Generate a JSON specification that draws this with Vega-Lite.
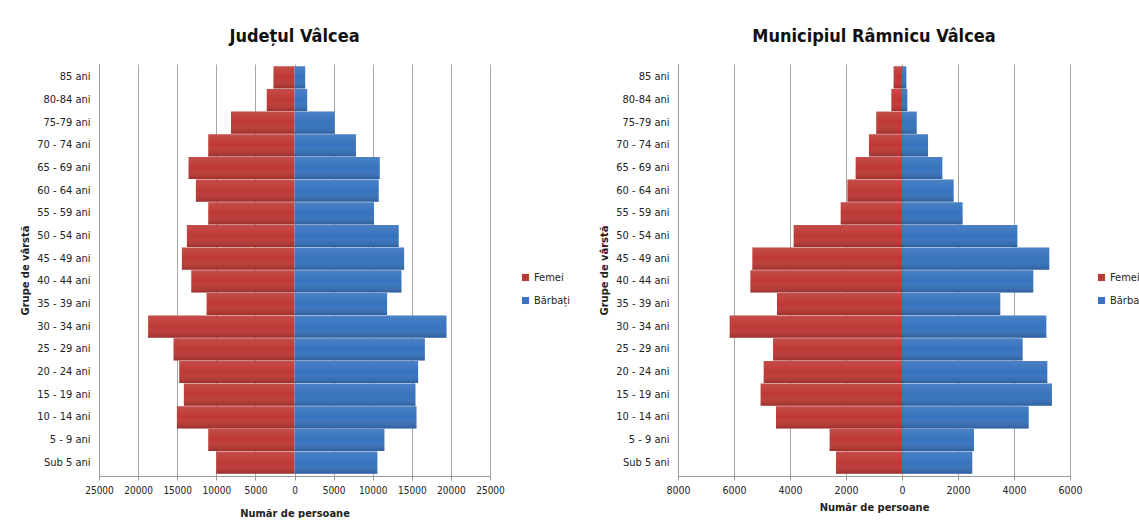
{
  "$schema": "https://vega.github.io/schema/vega-lite/v6.json",
  "padding": {"left": 19, "top": 28, "right": 0, "bottom": 0},
  "background": "white",
  "bounds": "flush",
  "spacing": 188,
  "config": {
    "font": "DejaVu Sans Condensed",
    "view": {"stroke": null},
    "axis": {"labelFont": "DejaVu Sans Condensed", "titleFont": "DejaVu Sans Condensed", "labelColor": "#222", "titleColor": "#222", "labelFontSize": 11, "titleFontSize": 11, "titleFontWeight": "bold"},
    "axisX": {"labelOverlap": false, "labelFlush": false, "labelFontSize": 10},
    "title": {"font": "DejaVu Sans Condensed", "fontSize": 18, "fontWeight": "bold", "color": "#111", "anchor": "middle", "frame": "group", "offset": 18},
    "legend": {"labelFont": "DejaVu Sans Condensed", "labelFontSize": 11, "labelColor": "#222"}
  },
  "datasets": {
    "judet": [
      {"grupa": "85 ani", "sex": "Femei", "valoare": -2690},
      {"grupa": "85 ani", "sex": "Bărbați", "valoare": 1370},
      {"grupa": "80-84 ani", "sex": "Femei", "valoare": -3550},
      {"grupa": "80-84 ani", "sex": "Bărbați", "valoare": 1620},
      {"grupa": "75-79 ani", "sex": "Femei", "valoare": -8120},
      {"grupa": "75-79 ani", "sex": "Bărbați", "valoare": 5130},
      {"grupa": "70 - 74 ani", "sex": "Femei", "valoare": -11030},
      {"grupa": "70 - 74 ani", "sex": "Bărbați", "valoare": 7860},
      {"grupa": "65 - 69 ani", "sex": "Femei", "valoare": -13550},
      {"grupa": "65 - 69 ani", "sex": "Bărbați", "valoare": 10900},
      {"grupa": "60 - 64 ani", "sex": "Femei", "valoare": -12610},
      {"grupa": "60 - 64 ani", "sex": "Bărbați", "valoare": 10770},
      {"grupa": "55 - 59 ani", "sex": "Femei", "valoare": -11030},
      {"grupa": "55 - 59 ani", "sex": "Bărbați", "valoare": 10170},
      {"grupa": "50 - 54 ani", "sex": "Femei", "valoare": -13760},
      {"grupa": "50 - 54 ani", "sex": "Bărbați", "valoare": 13330},
      {"grupa": "45 - 49 ani", "sex": "Femei", "valoare": -14400},
      {"grupa": "45 - 49 ani", "sex": "Bărbați", "valoare": 14020},
      {"grupa": "40 - 44 ani", "sex": "Femei", "valoare": -13200},
      {"grupa": "40 - 44 ani", "sex": "Bărbați", "valoare": 13680},
      {"grupa": "35 - 39 ani", "sex": "Femei", "valoare": -11240},
      {"grupa": "35 - 39 ani", "sex": "Bărbați", "valoare": 11840},
      {"grupa": "30 - 34 ani", "sex": "Femei", "valoare": -18720},
      {"grupa": "30 - 34 ani", "sex": "Bărbați", "valoare": 19440},
      {"grupa": "25 - 29 ani", "sex": "Femei", "valoare": -15470},
      {"grupa": "25 - 29 ani", "sex": "Bărbați", "valoare": 16670},
      {"grupa": "20 - 24 ani", "sex": "Femei", "valoare": -14740},
      {"grupa": "20 - 24 ani", "sex": "Bărbați", "valoare": 15810},
      {"grupa": "15 - 19 ani", "sex": "Femei", "valoare": -14150},
      {"grupa": "15 - 19 ani", "sex": "Bărbați", "valoare": 15470},
      {"grupa": "10 - 14 ani", "sex": "Femei", "valoare": -15040},
      {"grupa": "10 - 14 ani", "sex": "Bărbați", "valoare": 15600},
      {"grupa": "5 - 9 ani", "sex": "Femei", "valoare": -11030},
      {"grupa": "5 - 9 ani", "sex": "Bărbați", "valoare": 11500},
      {"grupa": "Sub 5 ani", "sex": "Femei", "valoare": -10000},
      {"grupa": "Sub 5 ani", "sex": "Bărbați", "valoare": 10600}
    ],
    "municipiu": [
      {"grupa": "85 ani", "sex": "Femei", "valoare": -300},
      {"grupa": "85 ani", "sex": "Bărbați", "valoare": 155},
      {"grupa": "80-84 ani", "sex": "Femei", "valoare": -380},
      {"grupa": "80-84 ani", "sex": "Bărbați", "valoare": 190},
      {"grupa": "75-79 ani", "sex": "Femei", "valoare": -920},
      {"grupa": "75-79 ani", "sex": "Bărbați", "valoare": 525},
      {"grupa": "70 - 74 ani", "sex": "Femei", "valoare": -1180},
      {"grupa": "70 - 74 ani", "sex": "Bărbați", "valoare": 930},
      {"grupa": "65 - 69 ani", "sex": "Femei", "valoare": -1655},
      {"grupa": "65 - 69 ani", "sex": "Bărbați", "valoare": 1440},
      {"grupa": "60 - 64 ani", "sex": "Femei", "valoare": -1950},
      {"grupa": "60 - 64 ani", "sex": "Bărbați", "valoare": 1845},
      {"grupa": "55 - 59 ani", "sex": "Femei", "valoare": -2190},
      {"grupa": "55 - 59 ani", "sex": "Bărbați", "valoare": 2165},
      {"grupa": "50 - 54 ani", "sex": "Femei", "valoare": -3870},
      {"grupa": "50 - 54 ani", "sex": "Bărbați", "valoare": 4120},
      {"grupa": "45 - 49 ani", "sex": "Femei", "valoare": -5345},
      {"grupa": "45 - 49 ani", "sex": "Bărbați", "valoare": 5260},
      {"grupa": "40 - 44 ani", "sex": "Femei", "valoare": -5415},
      {"grupa": "40 - 44 ani", "sex": "Bărbați", "valoare": 4690},
      {"grupa": "35 - 39 ani", "sex": "Femei", "valoare": -4465},
      {"grupa": "35 - 39 ani", "sex": "Bărbați", "valoare": 3510},
      {"grupa": "30 - 34 ani", "sex": "Femei", "valoare": -6155},
      {"grupa": "30 - 34 ani", "sex": "Bărbați", "valoare": 5155},
      {"grupa": "25 - 29 ani", "sex": "Femei", "valoare": -4605},
      {"grupa": "25 - 29 ani", "sex": "Bărbați", "valoare": 4310},
      {"grupa": "20 - 24 ani", "sex": "Femei", "valoare": -4940},
      {"grupa": "20 - 24 ani", "sex": "Bărbați", "valoare": 5190},
      {"grupa": "15 - 19 ani", "sex": "Femei", "valoare": -5050},
      {"grupa": "15 - 19 ani", "sex": "Bărbați", "valoare": 5355},
      {"grupa": "10 - 14 ani", "sex": "Femei", "valoare": -4500},
      {"grupa": "10 - 14 ani", "sex": "Bărbați", "valoare": 4525},
      {"grupa": "5 - 9 ani", "sex": "Femei", "valoare": -2585},
      {"grupa": "5 - 9 ani", "sex": "Bărbați", "valoare": 2570},
      {"grupa": "Sub 5 ani", "sex": "Femei", "valoare": -2355},
      {"grupa": "Sub 5 ani", "sex": "Bărbați", "valoare": 2510}
    ]
  },
  "resolve": {"legend": {"color": "independent"}, "scale": {"x": "independent", "y": "independent", "color": "independent"}},
  "hconcat": [
    {
      "title": {"text": "Județul Vâlcea"},
      "width": 391,
      "height": 412,
      "data": {"name": "judet"},
      "encoding": {
        "y": {"field": "grupa", "type": "ordinal", "sort": ["85 ani","80-84 ani","75-79 ani","70 - 74 ani","65 - 69 ani","60 - 64 ani","55 - 59 ani","50 - 54 ani","45 - 49 ani","40 - 44 ani","35 - 39 ani","30 - 34 ani","25 - 29 ani","20 - 24 ani","15 - 19 ani","10 - 14 ani","5 - 9 ani","Sub 5 ani"],
          "scale": {"paddingInner": 0.02, "paddingOuter": 0.1},
          "axis": {"title": "Grupe de vârstă", "ticks": false, "labelPadding": 9, "titlePadding": 6, "domainColor": "#9a9a9a", "grid": false}},
        "x": {"field": "valoare", "type": "quantitative",
          "scale": {"domain": [-25000, 25000], "nice": false},
          "axis": {"title": "Număr de persoane", "values": [-25000,-20000,-15000,-10000,-5000,0,5000,10000,15000,20000,25000], "labelExpr": "format(abs(datum.value), 'd')", "labelOverlap": false, "labelFlush": false, "labelFontSize": 10, "grid": true, "gridColor": "#a6a6a6", "gridWidth": 1, "domainColor": "#9a9a9a", "tickColor": "#9a9a9a", "tickSize": 4, "labelPadding": 5, "titlePadding": 12}}
      },
      "layer": [
        {
          "mark": {"type": "bar"},
          "encoding": {
            "color": {"field": "sex", "type": "nominal",
              "scale": {"domain": ["Femei", "Bărbați"], "range": ["#BE3935", "#3773BE"]},
              "legend": {"title": null, "orient": "none", "legendX": 421, "legendY": 208, "symbolType": "square", "symbolSize": 50, "rowPadding": 11, "labelOffset": 3, "symbolStrokeWidth": 0}}
          }
        },
        {
          "mark": {"type": "bar", "color": {"gradient": "linear", "x1": 0, "y1": 0, "x2": 0, "y2": 1, "stops": [{"offset": 0, "color": "rgba(255,255,255,0.10)"}, {"offset": 0.5, "color": "rgba(255,255,255,0)"}, {"offset": 1, "color": "rgba(0,0,0,0.18)"}]}},
          "encoding": {}
        }
      ]
    },
    {
      "title": {"text": "Municipiul Râmnicu Vâlcea"},
      "width": 392,
      "height": 412,
      "data": {"name": "municipiu"},
      "encoding": {
        "y": {"field": "grupa", "type": "ordinal", "sort": ["85 ani","80-84 ani","75-79 ani","70 - 74 ani","65 - 69 ani","60 - 64 ani","55 - 59 ani","50 - 54 ani","45 - 49 ani","40 - 44 ani","35 - 39 ani","30 - 34 ani","25 - 29 ani","20 - 24 ani","15 - 19 ani","10 - 14 ani","5 - 9 ani","Sub 5 ani"],
          "scale": {"paddingInner": 0.02, "paddingOuter": 0.1},
          "axis": {"title": "Grupe de vârstă", "ticks": false, "labelPadding": 9, "titlePadding": 6, "domainColor": "#9a9a9a", "grid": false}},
        "x": {"field": "valoare", "type": "quantitative",
          "scale": {"domain": [-8000, 6000], "nice": false},
          "axis": {"title": "Număr de persoane", "values": [-8000,-6000,-4000,-2000,0,2000,4000,6000], "labelExpr": "format(abs(datum.value), 'd')", "labelOverlap": false, "labelFlush": false, "labelFontSize": 10.5, "grid": true, "gridColor": "#a6a6a6", "gridWidth": 1, "domainColor": "#9a9a9a", "tickColor": "#9a9a9a", "tickSize": 4, "labelPadding": 5, "titlePadding": 6}}
      },
      "layer": [
        {
          "mark": {"type": "bar"},
          "encoding": {
            "color": {"field": "sex", "type": "nominal",
              "scale": {"domain": ["Femei", "Bărbați"], "range": ["#BE3935", "#3773BE"]},
              "legend": {"title": null, "orient": "none", "legendX": 418, "legendY": 208, "symbolType": "square", "symbolSize": 50, "rowPadding": 11, "labelOffset": 3, "symbolStrokeWidth": 0}}
          }
        },
        {
          "mark": {"type": "bar", "color": {"gradient": "linear", "x1": 0, "y1": 0, "x2": 0, "y2": 1, "stops": [{"offset": 0, "color": "rgba(255,255,255,0.10)"}, {"offset": 0.5, "color": "rgba(255,255,255,0)"}, {"offset": 1, "color": "rgba(0,0,0,0.18)"}]}},
          "encoding": {}
        }
      ]
    }
  ]
}
